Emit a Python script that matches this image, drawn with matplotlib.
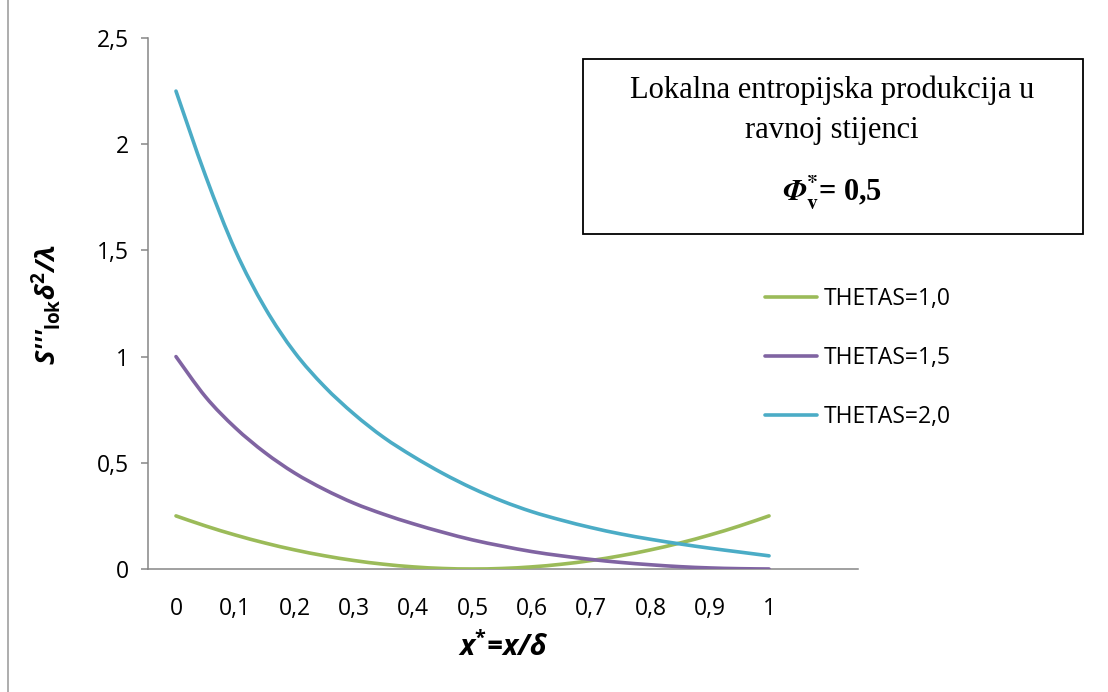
"""Lokalna entropijska produkcija u ravnoj stijenci, Phi_v* = 0,5."""
import matplotlib
matplotlib.use("Agg")
import matplotlib.pyplot as plt
import numpy as np
from matplotlib.lines import Line2D
from matplotlib.patches import PathPatch, Rectangle
from matplotlib.path import Path

plt.rcParams["font.family"] = ["Open Sans", "DejaVu Sans"]
plt.rcParams["mathtext.fontset"] = "custom"
plt.rcParams["mathtext.rm"] = "Open Sans:bold"
plt.rcParams["mathtext.it"] = "Open Sans:bold:italic"
plt.rcParams["mathtext.bf"] = "Open Sans:bold"

# x* = x / delta
x_star = [0.0, 0.05, 0.1, 0.15, 0.2, 0.25, 0.3, 0.35, 0.4, 0.45, 0.5,
          0.55, 0.6, 0.65, 0.7, 0.75, 0.8, 0.85, 0.9, 0.95, 1.0]
x_ticks = [0.0, 0.1, 0.2, 0.3, 0.4, 0.5, 0.6, 0.7, 0.8, 0.9, 1.0]
x_tick_labels = ["0", "0,1", "0,2", "0,3", "0,4", "0,5", "0,6", "0,7", "0,8", "0,9", "1"]
y_ticks = [0.0, 0.5, 1.0, 1.5, 2.0, 2.5]
y_tick_labels = ["0", "0,5", "1", "1,5", "2", "2,5"]

thetas_10 = [0.25, 0.2025, 0.16, 0.1225, 0.09, 0.0625, 0.04, 0.0225, 0.01, 0.0025, 0.0,
             0.0025, 0.01, 0.0225, 0.04, 0.0625, 0.09, 0.1225, 0.16, 0.2025, 0.25]
thetas_15 = [1.0, 0.81, 0.665, 0.548, 0.452, 0.375, 0.31, 0.258, 0.213, 0.173, 0.137,
             0.108, 0.082, 0.062, 0.045, 0.031, 0.02, 0.011, 0.005, 0.0015, 0.0]
thetas_20 = [2.25, 1.85, 1.5, 1.23, 1.02, 0.86, 0.73, 0.62, 0.53, 0.45, 0.38,
             0.32, 0.27, 0.23, 0.195, 0.165, 0.14, 0.118, 0.098, 0.08, 0.062]

SERIES = [
    ("THETAS=1,0", thetas_10, "#9BBB59"),
    ("THETAS=1,5", thetas_15, "#8064A2"),
    ("THETAS=2,0", thetas_20, "#4BACC6"),
]

LW = 2.6


def smooth_path(xs, ys):
    """Excel-style smoothed line: cubic Bezier segments through the points."""
    p = np.column_stack([xs, ys]).astype(float)
    ext = np.vstack([p[0], p, p[-1]])
    verts = [p[0]]
    codes = [Path.MOVETO]
    for i in range(1, len(ext) - 2):
        p0, p1, p2, p3 = ext[i - 1], ext[i], ext[i + 1], ext[i + 2]
        verts += [p1 + (p2 - p0) / 6, p2 - (p3 - p1) / 6, p2]
        codes += [Path.CURVE4] * 3
    return Path(verts, codes)


W, H = 1108, 692
fig = plt.figure(figsize=(W / 100, H / 100), dpi=100)
ax = fig.add_axes([148 / W, 1 - 569 / H, 710 / W, 531 / H])

handles = []
for label, ys, colour in SERIES:
    ax.add_patch(PathPatch(smooth_path(x_star, ys), fill=False, edgecolor=colour,
                           lw=LW, capstyle="round", zorder=3))
    handles.append(Line2D([], [], color=colour, lw=LW, label=label,
                          solid_capstyle="round"))

ax.set_xlim(-0.0472, 1.150)
ax.set_ylim(0, 2.5)
ax.set_xticks(x_ticks)
ax.set_xticklabels(x_tick_labels)
ax.set_yticks(y_ticks)
ax.set_yticklabels(y_tick_labels)
ax.tick_params(axis="x", length=0, pad=20, labelsize=16.5)
ax.tick_params(axis="y", length=5, width=1.1, color="#868686", pad=9, labelsize=16.5)
for side in ("top", "right"):
    ax.spines[side].set_visible(False)
for side in ("left", "bottom"):
    ax.spines[side].set_color("#868686")
    ax.spines[side].set_linewidth(1.1)

fig.text(503 / W, 1 - 648 / H, r"x$^{\mathrm{*}}$=x/δ", fontsize=20.5,
         fontweight="bold", style="italic", ha="center", va="center")
fig.text(46 / W, 1 - 305 / H, r"S'''$_{\mathrm{lok}}$δ$^{\mathrm{2}}$/λ", fontsize=19.5,
         fontweight="bold", style="italic", ha="center", va="center", rotation=90)

ax.legend(handles=handles, loc="upper left", bbox_to_anchor=(744 / W, 1 - 266 / H),
          bbox_transform=fig.transFigure, frameon=False, fontsize=16.5,
          labelspacing=1.53, handlelength=2.3, handletextpad=0.3)

# title box
fig.patches.append(Rectangle((583 / W, 1 - 234 / H), 500 / W, 175 / H,
                             transform=fig.transFigure, fill=False,
                             edgecolor="black", lw=1.3))
fig.text(832 / W, 1 - 110 / H, "Lokalna entropijska produkcija u\nravnoj stijenci",
         family="Liberation Serif", fontsize=22, ha="center", va="center",
         linespacing=1.5)
t = fig.text(832 / W, 1 - 193 / H, r"$\mathbfit{\Phi}_{\mathbf{v}}^{\mathbf{*}}$= 0,5",
             family="Liberation Serif", fontsize=22, fontweight="bold",
             ha="center", va="center")
t.set_math_fontfamily("stix")

fig.lines.append(Line2D([8 / W, 8 / W], [0, 1], transform=fig.transFigure,
                        color="#a0a0a0", lw=1.2))

fig.savefig("out.png", dpi=100)
